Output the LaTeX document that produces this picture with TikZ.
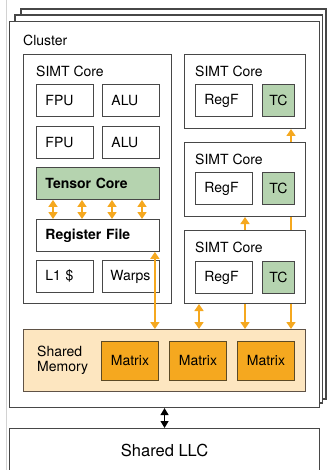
\documentclass[tikz,border=0pt]{standalone}
\usepackage{fontspec}
\setmainfont{TeX Gyre Heros}
\usetikzlibrary{arrows.meta}
\pgfdeclarelayer{back}
\pgfdeclarelayer{mid}
\pgfsetlayers{back,mid,main}
\definecolor{edge}{HTML}{474747}
\definecolor{tcgreen}{HTML}{B5D3AF}
\definecolor{amber}{HTML}{F5A81F}
\definecolor{smfill}{HTML}{FDE6C0}
\definecolor{mxedge}{HTML}{5C4A26}
\tikzset{
  frame/.style={draw=edge, fill=white, line width=1.1pt},
  txt/.style={font=\fontsize{14}{14.5}\selectfont},
  bold/.style={font=\fontsize{14}{14.5}\selectfont\bfseries},
  core/.style={draw=edge, fill=white, line width=1pt, anchor=north west, inner sep=0pt},
  unit/.style={draw=edge, fill=white, line width=0.9pt, anchor=north west, minimum height=32pt,
    inner xsep=9pt, inner ysep=0pt, text width=39pt, align=left, txt},
  tcbox/.style={unit, fill=tcgreen, text width=20pt, inner xsep=6pt, align=center},
  mx/.style={draw=mxedge, fill=amber, line width=0.9pt, anchor=north west,
    minimum width=57pt, minimum height=39pt, inner sep=0pt, txt},
  lbl/.style={anchor=base west, inner sep=0pt, txt},
  oarr/.style={draw=amber, line width=1.4pt,
    {Triangle[width=9pt,length=7pt]}-{Triangle[width=9pt,length=7pt]}},
}
\begin{document}
\begin{tikzpicture}[x=1pt, y=-1pt]
  \useasboundingbox (0,0) rectangle (329,470);
  \clip (0,0) rectangle (329,470);

  % stacked clusters
  \begin{pgfonlayer}{back}
    \draw[gray!35, line width=0.8pt] (6,0) -- (6,470);
    \draw[frame] (21,9) rectangle (326,399);
    \draw[frame] (15,15) rectangle (322.5,403);
    \node[frame, anchor=north west, minimum width=310pt, minimum height=386pt, inner sep=0pt] (cluster) at (9,21) {};
  \end{pgfonlayer}
  \node[lbl] (clbl) at ([shift={(14,24.5)}]cluster.north west) {Cluster};

  % big SIMT core
  \node[core, minimum width=148pt, minimum height=249pt] (coreL) at (23,54) {};
  \node[lbl] (lblL) at ([shift={(13,22.5)}]coreL.north west) {SIMT Core};
  \node[unit] (fpuA) at (36,84) {FPU};
  \node[unit] (aluA) at (102,84) {ALU};
  \node[unit] (fpuB) at (36,126) {FPU};
  \node[unit] (aluB) at (102,126) {ALU};
  \node[unit, fill=tcgreen, text width=105pt, bold] (tcore) at (36,167) {Tensor Core};
  \node[unit, text width=105pt, bold] (rf) at (36,219) {Register File};
  \node[unit] (l1) at (36,260) {L1 \$};
  \node[unit, inner xsep=8pt, text width=41pt] (warps) at (102,260) {Warps};

  % small SIMT cores
  \node[core, minimum width=121pt, minimum height=74pt] (coreA) at (184,54) {};
  \node[lbl] (lblA) at ([shift={(11,22.5)}]coreA.north west) {SIMT Core};
  \node[unit] (regA) at (195,84) {RegF};
  \node[tcbox] (tcA) at (262,84) {TC};

  \node[core, minimum width=121pt, minimum height=74pt] (coreB) at (184,142) {};
  \node[lbl] (lblB) at ([shift={(11,22.5)}]coreB.north west) {SIMT Core};
  \node[unit] (regB) at (195,172) {RegF};
  \node[tcbox] (tcB) at (262,172) {TC};

  \node[core, minimum width=121pt, minimum height=73pt] (coreC) at (184,230) {};
  \node[lbl] (lblC) at ([shift={(11,22.5)}]coreC.north west) {SIMT Core};
  \node[unit] (regC) at (195,261) {RegF};
  \node[tcbox] (tcC) at (262,261) {TC};

  % shared memory
  \node[draw=edge!80!brown, fill=smfill, line width=0.9pt, anchor=north west, inner sep=0pt,
    minimum width=282pt, minimum height=62pt] (sm) at (23,329) {};
  \node[anchor=west, align=left, inner sep=0pt, txt] (smlbl) at ([xshift=14pt]sm.west) {Shared\\Memory};
  \node[mx] (mxA) at (101,341) {Matrix};
  \node[mx] (mxB) at (169,341) {Matrix};
  \node[mx] (mxC) at (237,341) {Matrix};

  % links behind the small cores
  \begin{pgfonlayer}{mid}
    \draw[oarr] (coreB.south) -- (sm.north -| coreB.south);
    \draw[oarr] ([xshift=-15pt]coreA.south east) -- ([xshift=-15pt]sm.north -| coreA.south east);
  \end{pgfonlayer}
  \draw[oarr] ([xshift=15pt]coreC.south west) -- ([xshift=15pt]sm.north -| coreC.south west);
  \foreach \dx in {17,46,76,106}
    \draw[oarr] ([xshift=\dx pt]tcore.south west) -- ([xshift=\dx pt]rf.north west);
  \draw[oarr] ([xshift=-5pt]rf.south east) -- ([xshift=-5pt]sm.north -| rf.south east);

  % last level cache
  \node[frame, anchor=north west, minimum width=310pt, minimum height=44pt, inner sep=0pt,
    font=\fontsize{16.5}{18}\selectfont] (llc) at (9,428) {Shared LLC};
  \draw[line width=1.3pt, {Triangle[width=8pt,length=7pt]}-{Triangle[width=8pt,length=7pt]}]
    (cluster.south) -- (llc.north);
\end{tikzpicture}
\end{document}
